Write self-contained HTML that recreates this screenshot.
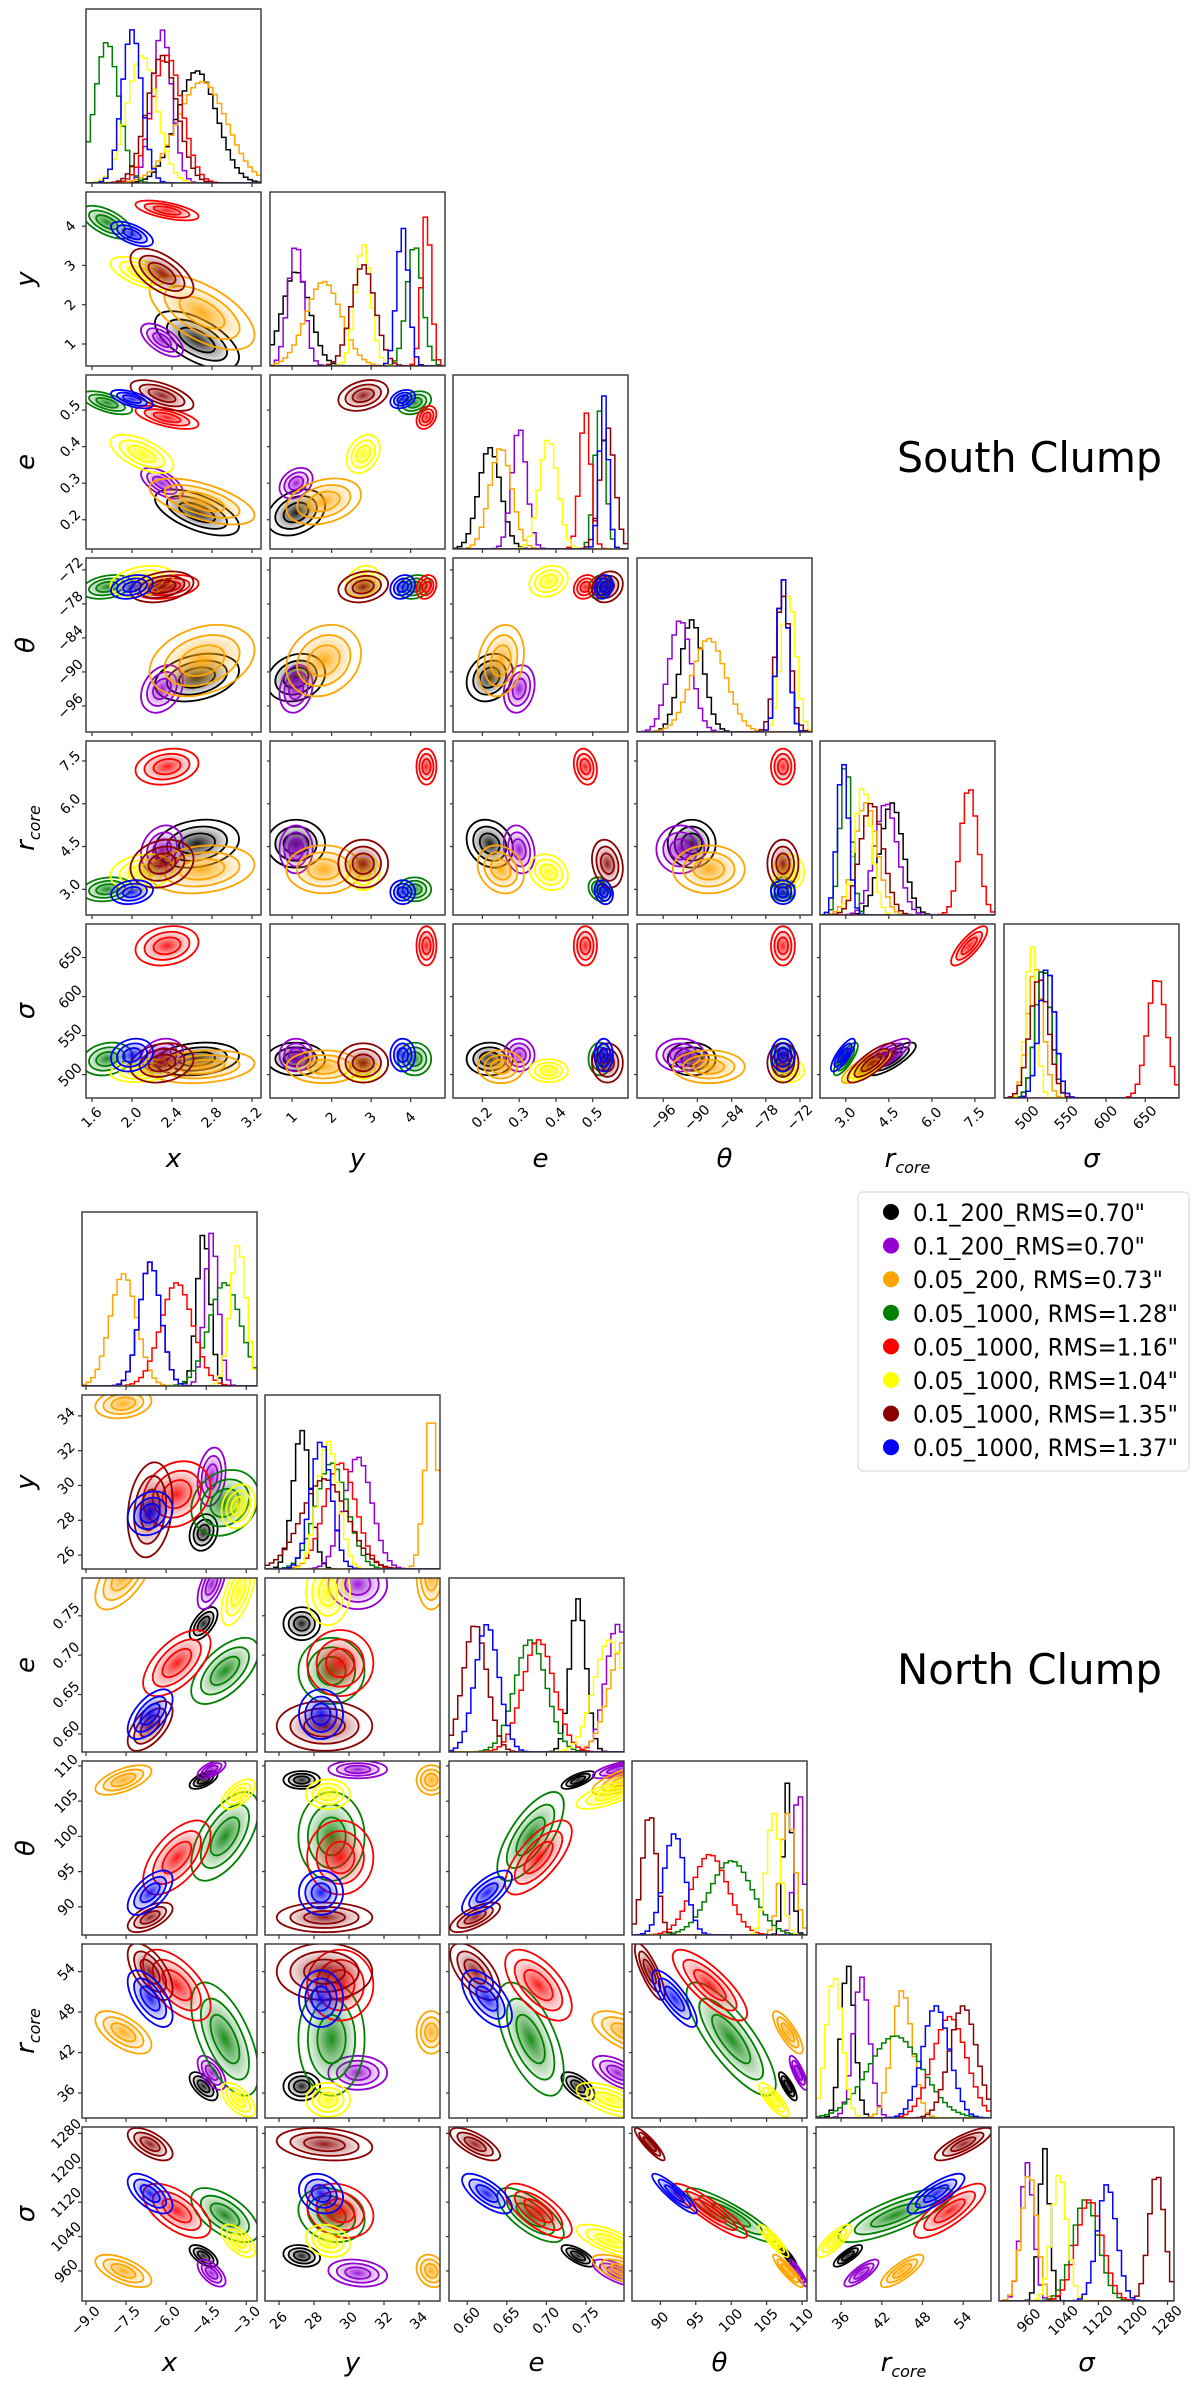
<!DOCTYPE html>
<html><head><meta charset="utf-8"><style>
html,body{margin:0;padding:0;background:#fff;}
svg{display:block;font-family:"DejaVu Sans","Liberation Sans",sans-serif;}
</style></head><body>
<svg id="fig" xmlns="http://www.w3.org/2000/svg" width="1200" height="2381" viewBox="0 0 1200 2381">
<defs id="defs"></defs>
<text x="897" y="472" font-size="42" textLength="265" lengthAdjust="spacingAndGlyphs">South Clump</text>
<text x="897" y="1684" font-size="42" textLength="265" lengthAdjust="spacingAndGlyphs">North Clump</text>
<g id="legend"></g>
</svg>
<script>
const seriesNames=['0.1_200_RMS=0.70"','0.1_200_RMS=0.70"','0.05_200, RMS=0.73"','0.05_1000, RMS=1.28"','0.05_1000, RMS=1.16"','0.05_1000, RMS=1.04"','0.05_1000, RMS=1.35"','0.05_1000, RMS=1.37"'];
const seriesColors=['#000000','#9400d3','#ffa500','#008000','#ff0000','#ffff00','#8b0000','#0000ff'];
const paramLabels=['x','y','e','θ','r','σ'];
// South clump: per-series means [x,y,e,theta,rcore,sigma]
const southMeans=[
 [2.65,1.1,0.22,-91,4.6,520],
 [2.30,1.1,0.30,-93,4.4,525],
 [2.70,1.8,0.25,-88,3.7,510],
 [1.75,4.1,0.52,-75,3.0,520],
 [2.35,4.4,0.48,-75,7.3,665],
 [2.10,2.8,0.38,-74,3.6,505],
 [2.30,2.8,0.54,-75,3.9,515],
 [2.00,3.8,0.53,-75,2.9,525]];
const southSds=[
 [0.20,0.35,0.03,2.0,0.40,10],
 [0.10,0.20,0.02,2.0,0.40,10],
 [0.25,0.45,0.03,3.0,0.40,10],
 [0.12,0.20,0.015,1.0,0.20,10],
 [0.15,0.12,0.015,1.0,0.30,12],
 [0.15,0.20,0.025,1.3,0.30,7],
 [0.15,0.30,0.02,1.3,0.40,12],
 [0.10,0.15,0.012,1.0,0.20,10]];
// correlation between param i (row) and j (col), i>j
const southCorr=[
 [0],
 [-0.6,0],
 [-0.6,0.3,0],
 [0.3,0.2,0.2,0],
 [0.2,0,-0.2,0,0],
 [0.2,0,0,0,0.8,0]];
const southRanges=[[1.54,3.29],[0.44,4.87],[0.12,0.596],[-100.6,-69.9],[2.1,8.2],[470,693]];
const southTicks=[[1.6,2.0,2.4,2.8,3.2],[1,2,3,4],[0.2,0.3,0.4,0.5],[-96,-90,-84,-78,-72],[3.0,4.5,6.0,7.5],[500,550,600,650]];
const southTickLabels=[["1.6","2.0","2.4","2.8","3.2"],["1","2","3","4"],["0.2","0.3","0.4","0.5"],["−96","−90","−84","−78","−72"],["3.0","4.5","6.0","7.5"],["500","550","600","650"]];
// North clump
const northMeans=[
 [-4.6,27.3,0.74,108,37,995],
 [-4.3,30.5,0.79,109.5,39,955],
 [-7.6,34.7,0.80,108,45,960],
 [-3.8,29.0,0.68,100,44,1090],
 [-5.6,29.5,0.69,97,52,1100],
 [-3.3,28.8,0.78,106,35,1030],
 [-6.6,28.6,0.61,88.5,54,1255],
 [-6.6,28.4,0.625,92,50,1140]];
const northSds=[
 [0.25,0.5,0.01,0.6,1.0,12],
 [0.25,0.8,0.015,0.6,1.2,15],
 [0.5,0.4,0.02,1.0,1.5,18],
 [0.6,0.9,0.02,3.0,4.0,30],
 [0.6,0.9,0.02,2.5,2.5,30],
 [0.3,0.6,0.02,1.0,1.2,18],
 [0.4,1.3,0.015,1.0,2.0,18],
 [0.4,0.6,0.015,1.5,2.0,22]];
const northCorr=[
 [0],
 [0.2,0],
 [0.6,0,0],
 [0.6,0,0.7,0],
 [-0.6,0,-0.6,-0.8,0],
 [-0.6,-0.2,-0.7,-0.9,0.8,0]];
const northRanges=[[-9.15,-2.6],[25.2,35.2],[0.577,0.798],[86,110.7],[32.3,58.1],[890,1295]];
const northTicks=[[-9,-7.5,-6,-4.5,-3],[26,28,30,32,34],[0.60,0.65,0.70,0.75],[90,95,100,105,110],[36,42,48,54],[960,1040,1120,1200,1280]];
const northTickLabels=[["−9.0","−7.5","−6.0","−4.5","−3.0"],["26","28","30","32","34"],["0.60","0.65","0.70","0.75"],["90","95","100","105","110"],["36","42","48","54"],["960","1040","1120","1200","1280"]];

const NS='http://www.w3.org/2000/svg';
const svg=document.getElementById('fig');
const defs=document.getElementById('defs');
function mk(tag,attrs,parent){const e=document.createElementNS(NS,tag);for(const k in attrs)e.setAttribute(k,attrs[k]);(parent||svg).appendChild(e);return e;}
seriesColors.forEach((c,i)=>{
 const g=mk('radialGradient',{id:'grad'+i},defs);
 mk('stop',{offset:'0%','stop-color':c,'stop-opacity':'0.9'},g);
 mk('stop',{offset:'45%','stop-color':c,'stop-opacity':'0.45'},g);
 mk('stop',{offset:'100%','stop-color':c,'stop-opacity':'0.05'},g);
});
const W=175,H=174;
function drawClump(name,cols,rows,means,sds,corr,ranges,ticks,tickLabels,xLabelY){
 const X=(j,v)=>cols[j]+(v-ranges[j][0])/(ranges[j][1]-ranges[j][0])*W;
 const Y=(i,v)=>rows[i]+H-(v-ranges[i][0])/(ranges[i][1]-ranges[i][0])*H;
 for(let i=0;i<6;i++){for(let j=0;j<=i;j++){
  const g=mk('g',{});
  
  
  const cid=name+'clip'+i+j;
  const cp=mk('clipPath',{id:cid},defs);
  mk('rect',{x:cols[j],y:rows[i],width:W,height:H},cp);
  const inner=mk('g',{'clip-path':'url(#'+cid+')'},g);
  if(i===j){
   const nb=40,r=ranges[i],bw=(r[1]-r[0])/nb;
   let gmax=0;
   for(let s=0;s<8;s++)gmax=Math.max(gmax,Math.pow(1/sds[s][i],0.45));
   for(let s=0;s<8;s++){
    let d='';
    for(let b=0;b<nb;b++){
     const c=r[0]+(b+0.5)*bw;const z=(c-means[s][i])/sds[s][i];
     const h=Math.exp(-0.5*z*z)*Math.pow(1/sds[s][i],0.45)/gmax*H*0.88;
     const x0=cols[j]+b*W/nb,x1=cols[j]+(b+1)*W/nb,yy=rows[i]+H-h;
     d+=(b===0?'M'+x0+','+yy:'L'+x0+','+yy)+'L'+x1+','+yy;
    }
    const p=mk('path',{d:d,fill:'none',stroke:seriesColors[s],'stroke-width':1.5},inner);
    
    
   }
  } else {
   const rho=corr[i][j];
   for(let s=0;s<8;s++){
    const cx=X(j,means[s][j]),cy=Y(i,means[s][i]);
    const ux=sds[s][j]/(ranges[j][1]-ranges[j][0])*W,uy=sds[s][i]/(ranges[i][1]-ranges[i][0])*H;
    const sxx=ux*ux,syy=uy*uy,sxy=-rho*ux*uy;
    const ang=0.5*Math.atan2(2*sxy,sxx-syy)*180/Math.PI;
    const m=(sxx+syy)/2,dd=Math.sqrt(((sxx-syy)/2)**2+sxy*sxy);
    const a=Math.sqrt(m+dd),bb=Math.sqrt(Math.max(m-dd,0.5));
    const tr='rotate('+ang+' '+cx+' '+cy+')';
    const f=mk('ellipse',{cx:cx,cy:cy,rx:1.6*a,ry:1.6*bb,fill:'url(#grad'+s+')',transform:tr},inner);
    
    
    [0.9,1.5,2.1].forEach(k=>{
     const e=mk('ellipse',{cx:cx,cy:cy,rx:k*a,ry:k*bb,fill:'none',stroke:seriesColors[s],'stroke-width':1.8,transform:tr},inner);
     
     
    });
   }
  }
  mk('rect',{x:cols[j],y:rows[i],width:W,height:H,fill:'none',stroke:'#333','stroke-width':1.4},g);
  ticks[j].forEach((t,k)=>{
   const tx=X(j,t);
   mk('line',{x1:tx,x2:tx,y1:rows[i]+H,y2:rows[i]+H+4,stroke:'#333','stroke-width':1.2},g);
   if(i===5){
    const tl=mk('text',{x:tx,y:rows[i]+H+24,'font-size':14,'text-anchor':'middle',transform:'rotate(-45 '+tx+' '+(rows[i]+H+20)+')'},g);
    tl.textContent=tickLabels[j][k];
    
    
   }
  });
  if(j===0&&i>0){
   ticks[i].forEach((t,k)=>{
    const ty=Y(i,t);
    mk('line',{x1:cols[0]-4,x2:cols[0],y1:ty,y2:ty,stroke:'#333','stroke-width':1.2},g);
    const tl=mk('text',{x:cols[0]-16,y:ty+5,'font-size':14,'text-anchor':'middle',transform:'rotate(-45 '+(cols[0]-16)+' '+ty+')'},g);
    tl.textContent=tickLabels[i][k];
    
    
   });
  } else if(i!==j){
   ticks[i].forEach(t=>{const ty=Y(i,t);mk('line',{x1:cols[j]-3,x2:cols[j],y1:ty,y2:ty,stroke:'#333','stroke-width':1.2},g);});
  }
 }}
 for(let p=0;p<6;p++){
  const cx=cols[p]+W/2;
  const t=mk('text',{x:cx,y:xLabelY,'font-size':26,'font-style':'italic','text-anchor':'middle'});
  
  
  if(p===4){t.textContent='r';const ts=mk('tspan',{'font-size':16,dy:6},t);ts.textContent='core';}
  else t.textContent=paramLabels[p];
  if(p>0){
   const cy=rows[p]+H/2;
   const y=mk('text',{x:26,y:cy+8,'font-size':26,'font-style':'italic','text-anchor':'middle',transform:'rotate(-90 26 '+cy+')'});
   
   
   if(p===4){y.textContent='r';const ts=mk('tspan',{'font-size':16,dy:6},y);ts.textContent='core';}
   else y.textContent=paramLabels[p];
  }
 }
}
drawClump('south',[86,270,453,637,820,1004],[9,192,375,558,741,924],southMeans,southSds,southCorr,southRanges,southTicks,southTickLabels,1167);
drawClump('north',[82,265,449,632,816,999],[1212,1395,1578,1761,1944,2127],northMeans,northSds,northCorr,northRanges,northTicks,northTickLabels,2371);
const lg=document.getElementById('legend');
mk('rect',{x:858,y:1192,width:331,height:279,rx:5,fill:'#fff',stroke:'#ddd','stroke-width':1.2},lg);
const legendWidths=[232,232,250,265,265,265,265,265];
seriesNames.forEach((n,i)=>{
 const cy=1212+i*33.6;
 const e=mk('g',{},lg);
 
 
 mk('circle',{cx:891,cy:cy,r:8,fill:seriesColors[i]},e);
 const t=mk('text',{x:913,y:cy+9,'font-size':24,textLength:legendWidths[i],lengthAdjust:'spacingAndGlyphs'},e);
 t.textContent=n;
});
</script>
</body></html>
